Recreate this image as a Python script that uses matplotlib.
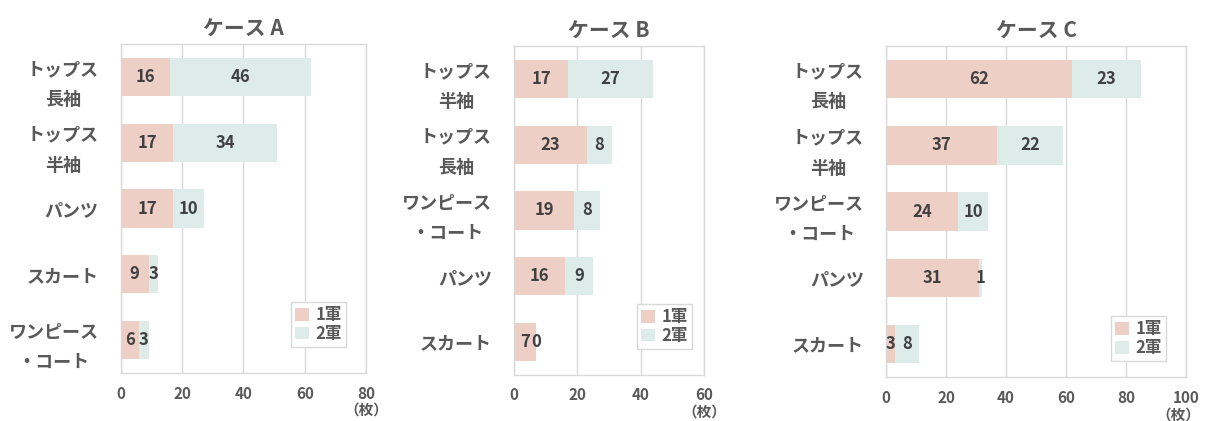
import numpy as np
import matplotlib
matplotlib.use('Agg')
from matplotlib import pyplot as plt

plt.rcParams['font.family'] = ['Noto Sans CJK JP', 'DejaVu Sans']

# data
titlesList = ['ケース A', 'ケース B', 'ケース C']
catsA = ['トップス\n長袖', 'トップス\n半袖', 'パンツ', 'スカート', 'ワンピース\n・コート']
firstA = [16, 17, 17, 9, 6]
secondA = [46, 34, 10, 3, 3]
catsB = ['トップス\n半袖', 'トップス\n長袖', 'ワンピース\n・コート', 'パンツ', 'スカート']
firstB = [17, 23, 19, 16, 7]
secondB = [27, 8, 8, 9, 0]
catsC = ['トップス\n長袖', 'トップス\n半袖', 'ワンピース\n・コート', 'パンツ', 'スカート']
firstC = [62, 37, 24, 31, 3]
secondC = [23, 22, 10, 1, 8]
xMaxList = [80, 60, 100]
seriesNames = ['1軍', '2軍']

colorFirst = '#EDCFC6'
colorSecond = '#DDEBE9'
textGray = '#595959'
gridGray = '#D9D9D9'

# panel boxes in figure fractions [left, bottom, width, height]
boxes = [[0.1004, 0.114, 0.2033, 0.7815],
         [0.4266, 0.1093, 0.1577, 0.7814],
         [0.7353, 0.1045, 0.2490, 0.7862]]
legendAnchors = [(0.918, 0.079), (0.937, 0.079), (0.933, 0.048)]
unitX = [1.0, 1.0, 0.975]

def drawPanel(fig, box, title, cats, first, second, xMax, anchor, ux):
    ax = fig.add_axes(box)
    y = np.arange(len(cats))
    b1 = ax.barh(y, first, height=0.58, color=colorFirst, label=seriesNames[0], zorder=2)
    b2 = ax.barh(y, second, left=first, height=0.58, color=colorSecond, label=seriesNames[1], zorder=2)
    for bars in (b1, b2):
        ax.bar_label(bars, label_type='center', fontsize=12, fontweight='bold', color='#404040')
    ax.set_ylim(len(cats) - 0.5, -0.5)
    ax.set_xlim(0, xMax)
    ax.set_xticks(np.arange(0, xMax + 1, 20))
    ax.grid(axis='x', color=gridGray, linewidth=1, zorder=0)
    ax.set_yticks(y)
    ax.set_yticklabels(cats, fontsize=13, fontweight='bold', color=textGray,
                       linespacing=1.75, multialignment='center')
    ax.tick_params(axis='y', length=0, pad=16)
    ax.tick_params(axis='x', length=0, pad=9, labelsize=11, labelcolor=textGray)
    for lbl in ax.get_xticklabels():
        lbl.set_fontweight('bold')
    for sp in ax.spines.values():
        sp.set_color(gridGray)
        sp.set_linewidth(1)
    ax.set_title(title, fontsize=15, fontweight='bold', color=textGray, pad=6)
    ax.text(ux, -0.112, '（枚）', transform=ax.transAxes, ha='center', va='center',
            fontsize=10.5, fontweight='bold', color=textGray)
    leg = ax.legend(loc='lower right', bbox_to_anchor=anchor, fontsize=12,
                    handlelength=0.8, handleheight=0.8, handletextpad=0.4,
                    borderpad=0.25, labelspacing=0.05, fancybox=False,
                    edgecolor=gridGray, framealpha=1, borderaxespad=0)
    for t in leg.get_texts():
        t.set_color(textGray)
        t.set_fontweight('bold')
    return ax

fig = plt.figure(figsize=(12.05, 4.21), dpi=100)
drawPanel(fig, boxes[0], titlesList[0], catsA, firstA, secondA, xMaxList[0], legendAnchors[0], unitX[0])
drawPanel(fig, boxes[1], titlesList[1], catsB, firstB, secondB, xMaxList[1], legendAnchors[1], unitX[1])
drawPanel(fig, boxes[2], titlesList[2], catsC, firstC, secondC, xMaxList[2], legendAnchors[2], unitX[2])

fig.savefig('out.png', dpi=100)
